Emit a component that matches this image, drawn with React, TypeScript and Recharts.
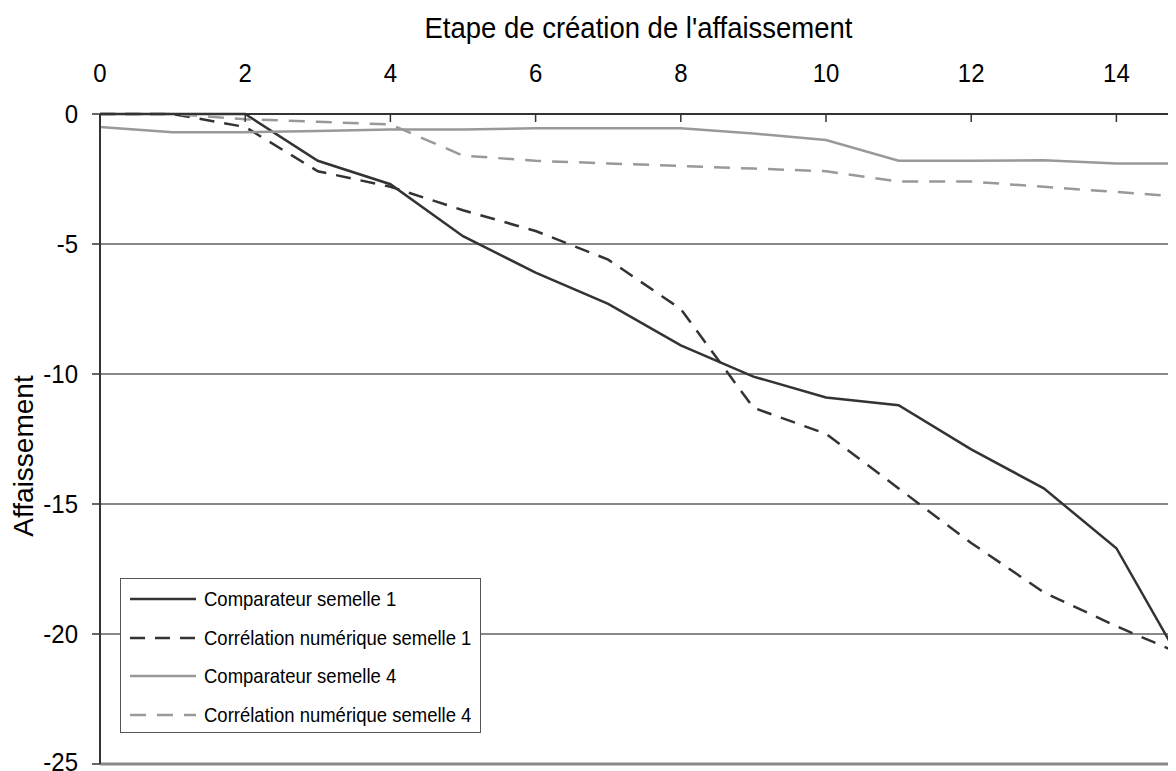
import React from 'react';
import { LineChart, Line, XAxis, YAxis, CartesianGrid, ReferenceLine, Label } from 'recharts';

const FONT = '"Liberation Sans", Arial, sans-serif';
// the source figure is stretched a little vertically, text included
const STRETCH = 1.1;

// Etape de création (x) and the four settlement series.
const STEPS = [0, 1, 2, 3, 4, 5, 6, 7, 8, 9, 10, 11, 12, 13, 14, 15];
const COMP_S1 = [0, 0, 0, -1.8, -2.7, -4.7, -6.1, -7.3, -8.9, -10.1, -10.9, -11.2, -12.9, -14.4, -16.7, -21.6];
const CORR_S1 = [0, 0, -0.5, -2.2, -2.8, -3.7, -4.5, -5.6, -7.5, -11.3, -12.3, -14.4, -16.5, -18.4, -19.7, -20.9];
const COMP_S4 = [-0.5, -0.7, -0.7, -0.65, -0.6, -0.6, -0.55, -0.55, -0.55, -0.75, -1.0, -1.8, -1.8, -1.78, -1.9, -1.9];
const CORR_S4 = [0, 0, -0.2, -0.3, -0.4, -1.6, -1.8, -1.9, -2.0, -2.1, -2.2, -2.6, -2.6, -2.8, -3.0, -3.2];

const X_TICKS = [0, 2, 4, 6, 8, 10, 12, 14];
const Y_TICKS = [0, -5, -10, -15, -20, -25];

const SERIES = [
  { key: 'comp1', name: 'Comparateur semelle 1', values: COMP_S1, color: '#333333', dash: undefined },
  { key: 'corr1', name: 'Corrélation numérique semelle 1', values: CORR_S1, color: '#333333', dash: '15 10' },
  { key: 'comp4', name: 'Comparateur semelle 4', values: COMP_S4, color: '#999999', dash: undefined },
  { key: 'corr4', name: 'Corrélation numérique semelle 4', values: CORR_S4, color: '#999999', dash: '16 11' },
];

const data = STEPS.map((s, i) => {
  const row: Record<string, number> = { step: s };
  SERIES.forEach((ser) => (row[ser.key] = ser.values[i]));
  return row;
});

function StretchText({ x, y, size, anchor = 'middle', children }: { x: number; y: number; size: number; anchor?: string; children: React.ReactNode }) {
  return (
    <text
      transform={`translate(${x}, ${y}) scale(1, ${STRETCH})`}
      textAnchor={anchor as any}
      fontSize={size}
      fontFamily={FONT}
      fill="#000"
    >
      {children}
    </text>
  );
}

// top axis: labels above, tick marks pointing down into the plot
function TopTick(props: { x?: number; y?: number; payload?: { value: number } }) {
  const { x = 0, y = 0, payload } = props;
  const axisY = y + 8;
  return (
    <g>
      <line x1={x} x2={x} y1={axisY} y2={axisY + 8} stroke="#333" strokeWidth={1.5} />
      <StretchText x={x} y={axisY - 32} size={24}>
        {payload?.value}
      </StretchText>
    </g>
  );
}

function LeftTick(props: { x?: number; y?: number; payload?: { value: number } }) {
  const { x = 0, y = 0, payload } = props;
  return (
    <StretchText x={x} y={y + 9} size={24} anchor="end">
      {payload?.value}
    </StretchText>
  );
}

// drawn as an overlay so the chart doesn't reserve room for it
function LegendBox() {
  return (
    <div
      style={{
        position: 'absolute',
        left: 112,
        top: 570,
        width: 359,
        height: 153,
        border: '1px solid #555',
        background: '#fff',
        fontFamily: FONT,
        fontSize: 18.5,
      }}
    >
      {SERIES.map((s, i) => (
        <div key={s.key} style={{ position: 'absolute', left: 0, top: 20 + i * 38.5 - 12, height: 24, display: 'flex', alignItems: 'center' }}>
          <svg width={83} height={24}>
            <line x1={9} x2={75} y1={12} y2={12} stroke={s.color} strokeWidth={2.5} strokeDasharray={s.dash} />
          </svg>
          <span style={{ color: '#000', whiteSpace: 'nowrap', display: 'inline-block', transform: `scaleY(${STRETCH})` }}>{s.name}</span>
        </div>
      ))}
    </div>
  );
}

export default function App() {
  return (
    <div style={{ width: 1168, height: 763, overflow: 'hidden', position: 'relative', background: '#fff' }}>
      <LineChart width={1200} height={763} data={data} margin={{ top: 0, right: 19, bottom: 7, left: 0 }}>
        <CartesianGrid vertical={false} stroke="#111" strokeWidth={1} />
        <ReferenceLine y={-25} stroke="#8a8a8a" strokeWidth={3} />
        <XAxis
          dataKey="step"
          type="number"
          orientation="top"
          domain={[0, 15]}
          ticks={X_TICKS}
          height={106}
          tickSize={8}
          tickMargin={0}
          tickLine={false}
          tick={<TopTick />}
          axisLine={{ stroke: '#333', strokeWidth: 2 }}
        >
          <Label
            content={({ viewBox }: any) => (
              <StretchText x={viewBox.x + viewBox.width / 2 - 6} y={30} size={27.5}>
                Etape de création de l'affaissement
              </StretchText>
            )}
          />
        </XAxis>
        <YAxis
          type="number"
          domain={[-25, 0]}
          ticks={Y_TICKS}
          width={92}
          tickSize={8}
          tickMargin={14}
          tick={<LeftTick />}
          tickLine={{ stroke: '#333', strokeWidth: 1.5 }}
          axisLine={{ stroke: '#333', strokeWidth: 2 }}
        >
          <Label
            content={({ viewBox }: any) => (
              <text
                transform={`translate(25, ${viewBox.y + viewBox.height / 2 + 17}) rotate(-90)`}
                textAnchor="middle"
                fontSize={28}
                fontFamily={FONT}
                fill="#000"
              >
                Affaissement
              </text>
            )}
          />
        </YAxis>
        {SERIES.map((s) => (
          <Line
            key={s.key}
            dataKey={s.key}
            name={s.name}
            type="linear"
            stroke={s.color}
            strokeWidth={2.5}
            strokeDasharray={s.dash}
            dot={false}
            activeDot={false}
            isAnimationActive={false}
          />
        ))}
      </LineChart>
      <LegendBox />
    </div>
  );
}
